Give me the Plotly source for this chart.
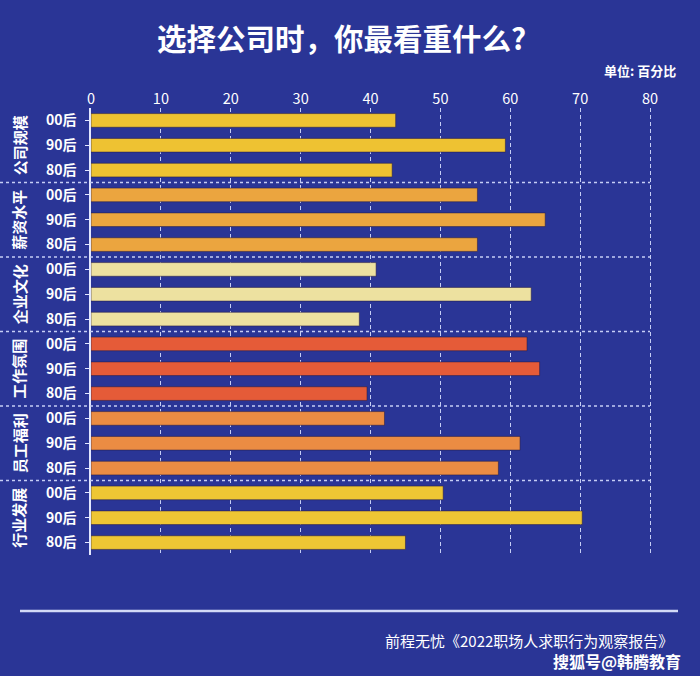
import plotly.graph_objects as go

# ---- data ----
groups = ["公司规模", "薪资水平", "企业文化", "工作氛围", "员工福利", "行业发展"]
generations = ["00后", "90后", "80后"]
company_scale = [43.6, 59.3, 43.1]
salary_level = [55.3, 65.0, 55.3]
corporate_culture = [40.8, 63.0, 38.4]
work_atmosphere = [62.4, 64.2, 39.5]
employee_welfare = [42.0, 61.4, 58.3]
industry_development = [50.4, 70.3, 45.0]
x_tick_values = [0, 10, 20, 30, 40, 50, 60, 70, 80]

series = [company_scale, salary_level, corporate_culture,
          work_atmosphere, employee_welfare, industry_development]
colors = ["#EEC232", "#EBA53F", "#EDE1A0", "#E55B38", "#EB8C43", "#EEC634"]

BG = "#2a3596"
GRID = "#c5cdf5"
FONT = "Noto Sans CJK SC"

W, H = 700, 676
L, R, T, B = 91, 43, 108, 121
PW, PH = W - L - R, H - T - B
XMAX = 81

def px_x(px):
    return (px - L) / PW

def px_y(py):
    return (H - B - py) / PH

fig = go.Figure()
tickvals, ticktext = [], []
for gi, (g, vals, col) in enumerate(zip(groups, series, colors)):
    ys = [gi * 3 + k for k in range(len(generations))]
    tickvals += ys
    ticktext += generations
    fig.add_trace(go.Bar(
        x=vals, y=ys, orientation="h", name=g,
        marker=dict(color=col, line=dict(color="rgba(40,30,70,0.55)", width=1)),
        width=0.55, showlegend=False, hoverinfo="x",
    ))

n_rows = len(groups) * len(generations)

shapes = []
# group separators
for gi in range(1, len(groups)):
    yv = gi * 3 - 0.5
    yp = (n_rows - 0.5 - yv) / n_rows
    shapes.append(dict(type="line", xref="paper", yref="paper",
                       x0=px_x(0), x1=80 / XMAX, y0=yp, y1=yp,
                       line=dict(color=GRID, width=1.5, dash="dot"), layer="above"))
# bottom rule
shapes.append(dict(type="line", xref="paper", yref="paper",
                   x0=px_x(20), x1=px_x(678), y0=px_y(611), y1=px_y(611),
                   line=dict(color="#d3daf7", width=2.5)))

annotations = []
for gi, g in enumerate(groups):
    yv = gi * 3 + 1
    yp = (n_rows - 0.5 - yv) / n_rows
    annotations.append(dict(text=g, xref="paper", yref="paper", x=px_x(19), y=yp,
                            showarrow=False, textangle=-90, xanchor="center", yanchor="middle",
                            font=dict(family=FONT, size=15, color="white", weight="bold")))

annotations.append(dict(text="选择公司时，你最看重什么?", xref="paper", yref="paper",
                        x=px_x(341), y=px_y(37), showarrow=False, xanchor="center", yanchor="middle",
                        font=dict(family=FONT, size=29.5, color="white", weight="bold")))
annotations.append(dict(text="单位: 百分比", xref="paper", yref="paper",
                        x=px_x(678), y=px_y(70), showarrow=False, xanchor="right", yanchor="middle",
                        font=dict(family=FONT, size=13, color="white", weight="bold")))
annotations.append(dict(text="前程无忧《2022职场人求职行为观察报告》", xref="paper", yref="paper",
                        x=px_x(675), y=px_y(640), showarrow=False, xanchor="right", yanchor="middle",
                        font=dict(family=FONT, size=15, color="white")))
annotations.append(dict(text="搜狐号@韩腾教育", xref="paper", yref="paper",
                        x=px_x(683), y=px_y(661), showarrow=False, xanchor="right", yanchor="middle",
                        font=dict(family=FONT, size=16, color="white", weight="bold")))

fig.update_layout(
    width=W, height=H,
    margin=dict(l=L, r=R, t=T, b=B, pad=0),
    paper_bgcolor=BG, plot_bgcolor=BG,
    bargap=0.45,
    shapes=shapes, annotations=annotations,
    font=dict(family=FONT, color="white"),
    xaxis=dict(side="top", range=[0, XMAX], tickvals=x_tick_values,
               showgrid=True, gridcolor=GRID, gridwidth=1, griddash="4px,3px",
               zeroline=False, showline=False, ticks="",
               tickfont=dict(family=FONT, size=14.5, color="white"), fixedrange=True),
    yaxis=dict(range=[n_rows - 0.5, -0.5], tickvals=tickvals, ticktext=ticktext,
               showgrid=False, zeroline=False, showline=True, linecolor="#e3e7ff", linewidth=1.5,
               ticks="outside", ticklen=4, tickcolor="#e3e7ff", tickwidth=1,
               ticklabelstandoff=6,
               tickfont=dict(family=FONT, size=14, color="white", weight="bold"), fixedrange=True),
)

fig.write_html("out.html")
